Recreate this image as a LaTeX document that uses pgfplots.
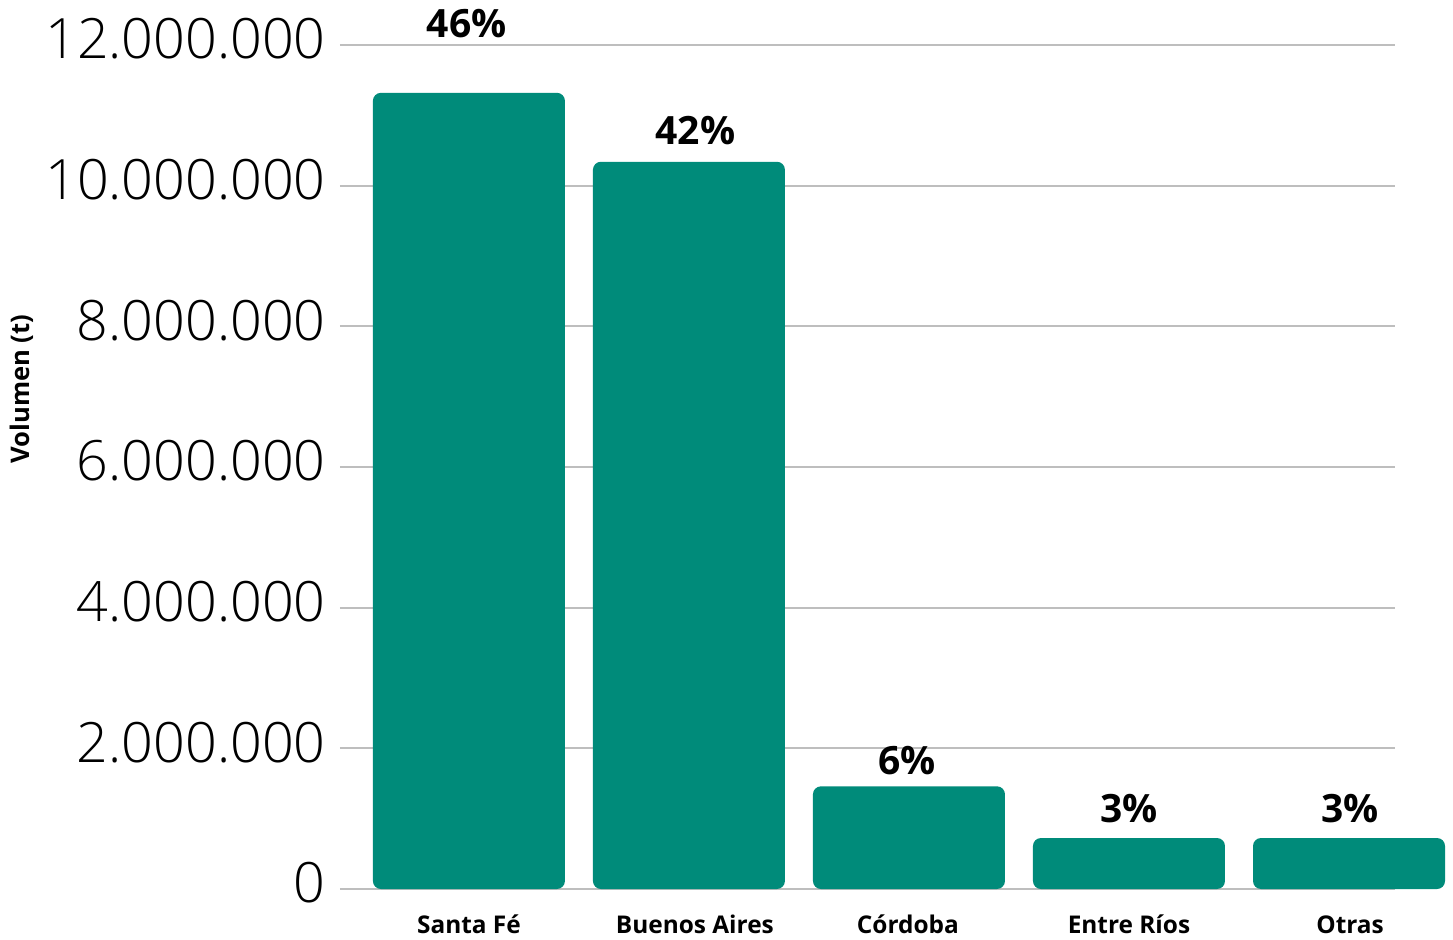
\documentclass[border=0pt]{standalone}
\usepackage{fontspec}
\setmainfont{Open Sans}
\newfontfamily\lightfont{Open Sans Light}
\usepackage{pgfplots}
\pgfplotsset{compat=1.18}
\definecolor{barteal}{RGB}{0,139,122}
\definecolor{gridgray}{RGB}{190,190,190}
\begin{document}
\begin{tikzpicture}
\begin{axis}[
  at={(0,0)}, anchor=south west,
  scale only axis,
  width=527.5pt, height=422pt,
  xmin=-0.586, xmax=4.209,
  ymin=0, ymax=12000000,
  scaled y ticks=false,
  clip=false,
  axis line style={draw=none},
  major tick length=0pt,
  ymajorgrids,
  grid style={gridgray, line width=1pt},
  ytick={0,2000000,4000000,6000000,8000000,10000000,12000000},
  yticklabels={0,2.000.000,4.000.000,6.000.000,8.000.000,10.000.000,12.000.000},
  yticklabel style={font=\lightfont\fontsize{27.8}{32}\selectfont, anchor=east, inner sep=0pt, xshift=-7pt, yshift=3pt},
  xtick={0,1.027,1.995,3,4.005},
  xticklabels={Santa Fé,Buenos Aires,Córdoba,Entre Ríos,Otras},
  xticklabel style={font=\bfseries\fontsize{12.2}{15}\selectfont, anchor=base, inner sep=0pt, yshift=-22pt},
]
\addplot[ybar, bar width=96pt, fill=barteal, draw=none, rounded corners=4pt]
  coordinates {(0,11320000) (1,10340000) (2,1460000) (3,725000) (4,725000)};
\begin{scope}[every node/.style={font=\bfseries\fontsize{19.5}{23}\selectfont, inner sep=0pt}]
\node at (axis cs:-0.01,12300000) {46\%};
\node at (axis cs:1.03,10780000) {42\%};
\node at (axis cs:1.99,1820000) {6\%};
\node at (axis cs:3.0,1150000) {3\%};
\node at (axis cs:4.005,1150000) {3\%};
\end{scope}
\end{axis}
\node[rotate=90, font=\bfseries\fontsize{12.8}{15}\selectfont, inner sep=0pt] at (-159pt,250pt) {Volumen (t)};
\pgfresetboundingbox
\useasboundingbox (-170pt,-25pt) rectangle (556.5pt,444.5pt);
\end{tikzpicture}
\end{document}
